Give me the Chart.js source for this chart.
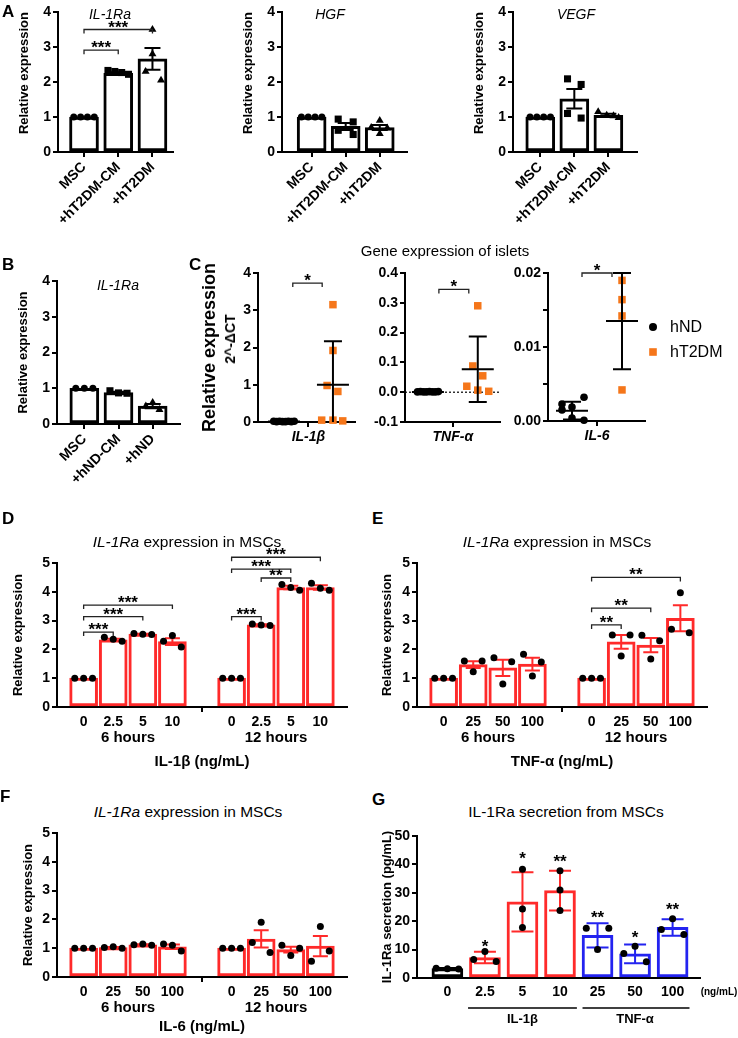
<!DOCTYPE html>
<html>
<head>
<meta charset="utf-8">
<script src="https://cdn.jsdelivr.net/npm/chart.js"></script>
<style>
body { margin: 0; background: #fff; }
#page { position: relative; width: 738px; height: 1038px; overflow: hidden; font-family: 'Liberation Sans', Arial, sans-serif; color: #000; }
canvas { position: absolute; }
.t { position: absolute; transform: translate(-50%, -50%); white-space: nowrap; line-height: 1; z-index: 5; }
.lt { position: absolute; font-weight: bold; font-size: 17px; line-height: 1; z-index: 5; }
</style>
</head>
<body>
<div id="page">
  <div class="lt" style="left:2px;top:3px">A</div>
  <div class="lt" style="left:2px;top:256px">B</div>
  <div class="lt" style="left:189px;top:256px">C</div>
  <div class="lt" style="left:2px;top:510px">D</div>
  <div class="lt" style="left:372px;top:510px">E</div>
  <div class="lt" style="left:0px;top:788px">F</div>
  <div class="lt" style="left:372px;top:791px">G</div>

  <div class="t" style="left:110px;top:14px;font-size:14px;font-style:italic">IL-1Ra</div>
  <div class="t" style="left:330px;top:14px;font-size:14px;font-style:italic">HGF</div>
  <div class="t" style="left:576px;top:14px;font-size:14px;font-style:italic">VEGF</div>
  <div class="t" style="left:118px;top:285px;font-size:14px;font-style:italic">IL-1Ra</div>
  <div class="t" style="left:445px;top:250px;font-size:15px">Gene expression of islets</div>
  <div class="t" style="left:230px;top:339px;font-size:14px;font-weight:bold;transform:translate(-50%,-50%) rotate(-90deg)">2^-ΔCT</div>
  <div class="t" style="left:187px;top:542px;font-size:15.5px"><i>IL-1Ra</i> expression in MSCs</div>
  <div class="t" style="left:557px;top:542px;font-size:15.5px"><i>IL-1Ra</i> expression in MSCs</div>
  <div class="t" style="left:188px;top:812px;font-size:15.5px"><i>IL-1Ra</i> expression in MSCs</div>
  <div class="t" style="left:566px;top:812px;font-size:15.5px">IL-1Ra secretion from MSCs</div>
  <div class="t" style="left:719px;top:992px;font-size:10px;font-weight:bold">(ng/mL)</div>
</div>
<script>
// ---- data: panel A ----
const aGroups = ['MSC', '+hT2DM-CM', '+hT2DM'];
const il1raMean = [1, 2.25, 2.66];
const il1raSem = [0, 0.03, 0.31];
const il1raPts = [[1, 1, 1, 1], [2.33, 2.3, 2.27, 2.22], [3.5, 2.8, 2.3, 2.05]];
const il1raJit = [[-0.3, -0.1, 0.1, 0.3], [-0.3, -0.1, 0.1, 0.3], [0, 0, -0.2, 0.25]];
const hgfMean = [1, 0.73, 0.7];
const hgfSem = [0, 0.1, 0.07];
const hgfPts = [[1, 1, 1, 1], [0.94, 0.86, 0.62, 0.5], [0.9, 0.7, 0.68, 0.52]];
const hgfJit = [[-0.3, -0.1, 0.1, 0.3], [-0.22, 0.22, -0.22, 0.22], [0, -0.25, 0.22, 0]];
const vegfMean = [1, 1.52, 1.05];
const vegfSem = [0, 0.28, 0.04];
const vegfPts = [[1, 1, 1, 1], [2.09, 1.93, 1.1, 0.97], [1.15, 1.05, 1.03, 0.98]];
const vegfJit = [[-0.3, -0.1, 0.1, 0.3], [-0.2, 0.2, -0.2, 0.2], [-0.3, -0.05, 0.15, 0.3]];

// ---- panel B ----
const bGroups = ['MSC', '+hND-CM', '+hND'];
const bMean = [1, 0.88, 0.5];
const bSem = [0, 0.02, 0.06];
const bPts = [[1, 1, 1], [0.93, 0.87, 0.86], [0.6, 0.5, 0.4]];
const bJit = [[-0.25, 0, 0.25], [-0.25, 0, 0.25], [0, -0.2, 0.2]];

// ---- panel C ----
const cGenes = ['IL-1β', 'TNF-α', 'IL-6'];
const cSeries = ['hND', 'hT2DM'];
const ndJit = [-0.21, -0.15, -0.09, -0.03, 0.03, 0.09, 0.15, 0.21];
const il1bND = [0.02, 0.01, 0.02, 0.01, 0.01, 0.02, 0.01, 0.02];
const il1bT2 = [3.15, 1.92, 0.98, 0.82, 0.05, 0.05, 0.03];
const il1bT2Jit = [0, 0, -0.12, 0.1, -0.23, 0, 0.2];
const il1bMean = [0.015, 1.0];
const il1bSd = [0.005, 1.17];
const tnfND = [0.001, 0.002, 0.001, 0.001, 0.002, 0.001, 0.001, 0.002];
const tnfT2 = [0.29, 0.088, 0.055, 0.02, 0.007, 0.003];
const tnfT2Jit = [0, -0.1, 0.1, -0.22, 0, 0.22];
const tnfMean = [0.001, 0.077];
const tnfSd = [0.0005, 0.11];
const il6ND = [0.0032, 0.0023, 0.0019, 0.0015, 0.0004, 0.0001];
const il6NDJit = [0.24, -0.2, 0, -0.2, 0, 0.24];
const il6T2 = [0.019, 0.0164, 0.0142, 0.0042];
const il6T2Jit = [0, 0, 0, 0];
const il6Mean = [0.0014, 0.0135];
const il6Sd = [0.0012, 0.0065];

// ---- panels D, E, F (slot 4 is the gap between 6 h and 12 h) ----
const timeLabels = ['6 hours', '12 hours'];
const ptJit = [-0.3, 0, 0.3];
const dDoses = ['0', '2.5', '5', '10', '', '0', '2.5', '5', '10'];
const dMean = [1, 2.33, 2.53, 2.27, null, 1, 2.85, 4.15, 4.15];
const dSem = [0, 0.04, 0.01, 0.12, null, 0, 0.02, 0.06, 0.08];
const dPts = [[1, 1, 1], [2.42, 2.35, 2.28], [2.55, 2.53, 2.52], [2.28, 2.48, 2.08], [], [1, 1, 1], [2.88, 2.85, 2.83], [4.25, 4.15, 4.05], [4.3, 4.12, 4.05]];
const eDoses = ['0', '25', '50', '100', '', '0', '25', '50', '100'];
const eMean = [1, 1.47, 1.36, 1.49, null, 1, 2.26, 2.15, 3.08];
const eSem = [0, 0.12, 0.28, 0.22, null, 0, 0.24, 0.25, 0.45];
const ePts = [[1, 1, 1], [1.6, 1.22, 1.6], [1.71, 0.8, 1.57], [1.83, 1.08, 1.56], [], [1, 1, 1], [2.5, 1.77, 2.5], [2.49, 1.67, 2.3], [2.7, 3.97, 2.58]];
const fMean = [1, 1.02, 1.12, 1.05, null, 1, 1.32, 0.95, 1.07];
const fSem = [0, 0.02, 0.02, 0.08, null, 0, 0.3, 0.1, 0.35];
const fPts = [[1, 1, 1], [1.02, 1.05, 1.0], [1.12, 1.15, 1.1], [1.15, 1.1, 0.9], [], [1, 1, 1], [1.2, 1.9, 0.85], [1.1, 0.75, 1.0], [0.55, 1.75, 0.9]];

// ---- panel G ----
const gDoses = ['0', '2.5', '5', '10', '25', '50', '100'];
const gGroups = ['IL-1β', 'TNF-α'];
const gMean = [3.3, 7.2, 26.8, 30.8, 15.0, 8.5, 17.8];
const gSd = [0.2, 2.0, 10.4, 7.0, 4.3, 3.3, 2.9];
const gPts = [[3.4, 3.3, 3.2], [6.5, 9.3, 5.8], [24.3, 38.3, 17.8], [31, 37.8, 23.8], [17.5, 10, 17.5], [8.6, 11.2, 5.7], [17.1, 20.9, 15.3]];
const gJit = [[-0.3, 0, 0.3], [-0.3, 0, 0.3], [0, 0, 0], [0, 0, 0], [-0.3, 0, 0.3], [-0.3, 0, 0.3], [-0.3, 0, 0.3]];
const gStars = ['', '*', '*', '**', '**', '*', '**'];
const gStarY = [null, 11, 42, 41, 21, 14, 24];

const FONT = "'Liberation Sans', Arial, sans-serif";
const RED = '#ff2a2a', BLUE = '#2323f0', ORANGE = '#f5761a';
Chart.defaults.font.family = FONT;
Chart.defaults.color = '#000';
Chart.defaults.animation = false;
Chart.defaults.events = [];
Chart.defaults.plugins.legend.display = false;
Chart.defaults.plugins.tooltip.enabled = false;

const page = document.getElementById('page');
function addCanvas(L, T, W, H) {
  const c = document.createElement('canvas');
  c.width = W; c.height = H;
  c.style.left = L + 'px'; c.style.top = T + 'px';
  c.style.width = W + 'px'; c.style.height = H + 'px';
  page.appendChild(c);
  return c;
}

function yAxis(min, max, step, title, width, fmt, titleSize, titleAlign) {
  return {
    type: 'linear', position: 'left', min: min, max: max,
    afterFit: s => { s.width = width; },
    ticks: { stepSize: step, padding: 2, font: { size: 14, weight: 'bold' }, callback: fmt || (v => v) },
    grid: { drawOnChartArea: false, tickLength: 5, color: '#000', lineWidth: 2 },
    border: { color: '#000', width: 2 },
    title: { display: !!title, text: title, align: titleAlign || 'center', font: { size: titleSize || 13, weight: 'bold' }, padding: { top: 4, bottom: 4 } }
  };
}

function xAxis(min, max, ticks, labels, height, tickColor, font, rot) {
  return {
    type: 'linear', position: 'bottom', weight: 0, min: min, max: max, offset: false,
    afterFit: s => { s.height = height; },
    afterBuildTicks: s => { s.ticks = ticks.map(v => ({ value: v })); },
    ticks: { autoSkip: false, minRotation: rot || 0, maxRotation: rot || 0, padding: 2,
             font: font || { size: 14, weight: 'bold' }, callback: (v, i) => labels[i] },
    grid: { offset: false, drawOnChartArea: false, tickLength: 5, color: tickColor || '#000', lineWidth: 2 },
    border: { color: '#000', width: 2 }
  };
}

function errPlugin(capHalf, colorFn) {
  return {
    id: 'errBars',
    afterDatasetDraw(chart, args) {
      if (args.index !== 0) return;
      const ys = chart.scales.y, ctx = chart.ctx;
      const ds = chart.data.datasets[0];
      ctx.save();
      ctx.lineWidth = 2;
      args.meta.data.forEach((el, k) => {
        const d = ds.data[k];
        if (!d.e) return;
        const top = ys.getPixelForValue(d.y + d.e), bot = ys.getPixelForValue(d.y - d.e);
        ctx.strokeStyle = colorFn(k);
        ctx.beginPath();
        ctx.moveTo(el.x, top); ctx.lineTo(el.x, bot);
        ctx.moveTo(el.x - capHalf, top); ctx.lineTo(el.x + capHalf, top);
        ctx.moveTo(el.x - capHalf, bot); ctx.lineTo(el.x + capHalf, bot);
        ctx.stroke();
      });
      ctx.restore();
    }
  };
}

function bracketPlugin(items, fontSize) {
  return {
    id: 'brackets',
    afterDatasetsDraw(chart) {
      const { ctx, scales: { x, y } } = chart;
      ctx.save();
      ctx.strokeStyle = '#222'; ctx.fillStyle = '#000'; ctx.lineWidth = 1.3;
      ctx.font = 'bold ' + (fontSize || 17) + 'px ' + FONT;
      ctx.textAlign = 'center'; ctx.textBaseline = 'alphabetic';
      items.forEach(b => {
        const x1 = x.getPixelForValue(b[0]), x2 = x.getPixelForValue(b[1]), yy = y.getPixelForValue(b[2]);
        ctx.beginPath();
        ctx.moveTo(x1, yy + 4); ctx.lineTo(x1, yy); ctx.lineTo(x2, yy); ctx.lineTo(x2, yy + 4);
        ctx.stroke();
        const m = ctx.measureText(b[3]);
        ctx.fillText(b[3], (x1 + x2) / 2, yy - 2 - m.actualBoundingBoxDescent);
      });
      ctx.restore();
    }
  };
}

function groupDots(i, vals, offs, style, r, color) {
  return {
    type: 'scatter', order: 1, clip: false,
    data: vals.map((v, j) => ({ x: i + offs[j], y: v })),
    pointStyle: style, pointRadius: r, pointHoverRadius: r,
    pointBackgroundColor: color, pointBorderWidth: 0
  };
}

// ---- A and B: bars with SEM ----
const styles3 = ['circle', 'rect', 'triangle'];
const radii3 = [3.5, 5, 4.6];
function exprChart(box, plot, xr, groups, mean, sem, pts, jit, brackets, yTitle, titleAlign) {
  const [L, T, W, H] = box;
  const c = addCanvas(L, T, W, H);
  const datasets = [{
    type: 'bar', order: 3,
    data: mean.map((m, i) => ({ x: i, y: m, e: sem[i] })),
    backgroundColor: '#fff', borderColor: '#000', borderWidth: 3, borderSkipped: false, barThickness: 29
  }];
  pts.forEach((p, i) => datasets.push(groupDots(i, p, jit[i], styles3[i], radii3[i], '#000')));
  new Chart(c, {
    type: 'bar',
    data: { datasets },
    options: {
      responsive: false,
      layout: { padding: { top: plot[1] - T, right: L + W - plot[2], left: 0, bottom: 0 } },
      scales: {
        x: xAxis(xr[0], xr[1], [0, 1, 2], groups, T + H - plot[3], '#000', { size: 14, weight: 'bold' }, 45),
        y: yAxis(0, 4, 1, yTitle, plot[0] - L, null, 13, titleAlign)
      }
    },
    plugins: [errPlugin(8, () => '#000'), bracketPlugin(brackets)]
  });
}

exprChart([13, 0, 168, 232], [58, 12, 173, 152], [-0.76, 2.6], aGroups, il1raMean, il1raSem, il1raPts, il1raJit,
  [[0, 1, 2.91, '***'], [0, 2, 3.5, '***']], 'Relative expression', 'end');
exprChart([237, 0, 178, 232], [282, 12, 407, 152], [-0.87, 2.8], aGroups, hgfMean, hgfSem, hgfPts, hgfJit, [], 'Relative expression', 'end');
exprChart([468, 0, 177, 232], [513, 12, 637, 152], [-0.8, 2.84], aGroups, vegfMean, vegfSem, vegfPts, vegfJit, [], 'Relative expression', 'end');
exprChart([12, 269, 176, 228], [57, 281, 180, 424], [-0.8, 2.8], bGroups, bMean, bSem, bPts, bJit, [], 'Relative expression');

// ---- C: dot plots with mean ± SD ----
function meanSdPlugin(mean, sd) {
  return {
    id: 'meanSd',
    afterDatasetsDraw(chart) {
      const { ctx, scales: { x, y }, chartArea } = chart;
      ctx.save();
      ctx.strokeStyle = '#000'; ctx.lineWidth = 2;
      mean.forEach((m, i) => {
        const cx = x.getPixelForValue(i);
        const ym = y.getPixelForValue(m);
        const yt = Math.max(chartArea.top, y.getPixelForValue(m + sd[i]));
        const yb = Math.min(chartArea.bottom, y.getPixelForValue(m - sd[i]));
        ctx.beginPath();
        ctx.moveTo(cx - 16, ym); ctx.lineTo(cx + 16, ym);
        ctx.moveTo(cx, yt); ctx.lineTo(cx, yb);
        ctx.moveTo(cx - 9, yt); ctx.lineTo(cx + 9, yt);
        if (yb < chartArea.bottom) { ctx.moveTo(cx - 9, yb); ctx.lineTo(cx + 9, yb); }
        ctx.stroke();
      });
      ctx.restore();
    }
  };
}
const zeroLine = {
  id: 'zeroLine',
  beforeDatasetsDraw(chart) {
    const { ctx, scales: { y }, chartArea } = chart;
    const y0 = y.getPixelForValue(0);
    ctx.save();
    ctx.strokeStyle = '#000'; ctx.lineWidth = 1.2; ctx.setLineDash([2, 2]);
    ctx.beginPath(); ctx.moveTo(chartArea.left, y0); ctx.lineTo(chartArea.right, y0); ctx.stroke();
    ctx.restore();
  }
};
const sideLegend = {
  id: 'sideLegend',
  afterDraw(chart) {
    const ctx = chart.ctx;
    chart.data.datasets.forEach((ds, i) => {
      const cx = 147, cy = 72 + i * 25;
      ctx.save();
      ctx.fillStyle = ds.pointBackgroundColor;
      if (ds.pointStyle === 'rect') ctx.fillRect(cx - 3.8, cy - 3.8, 7.6, 7.6);
      else { ctx.beginPath(); ctx.arc(cx, cy, 4, 0, Math.PI * 2); ctx.fill(); }
      ctx.fillStyle = '#000'; ctx.font = '16px ' + FONT; ctx.textBaseline = 'middle';
      ctx.fillText(ds.label, cx + 17, cy + 1);
      ctx.restore();
    });
  }
};

function geneChart(box, plot, xr, gene, nd, ndOffs, t2, t2Offs, mean, sd, yCfg, bracket, extra) {
  const [L, T, W, H] = box;
  const c = addCanvas(L, T, W, H);
  const dsND = groupDots(0, nd, ndOffs, 'circle', 3.8, '#000');
  dsND.label = cSeries[0];
  const dsT2 = groupDots(1, t2, t2Offs, 'rect', 5.3, ORANGE);
  dsT2.label = cSeries[1];
  new Chart(c, {
    type: 'scatter',
    data: { datasets: [dsND, dsT2] },
    options: {
      responsive: false,
      layout: { padding: { top: plot[1] - T, right: L + W - plot[2], left: 0, bottom: 0 } },
      scales: {
        x: xAxis(xr[0], xr[1], [0.5], [gene], T + H - plot[3], '#000', { size: 14, weight: 'bold', style: 'italic' }),
        y: yCfg(plot[0] - L)
      }
    },
    plugins: [meanSdPlugin(mean, sd), bracketPlugin([bracket], 17)].concat(extra || [])
  });
}

geneChart([195, 255, 166, 195], [258, 273, 355, 422], [-0.53, 1.45], cGenes[0], il1bND, ndJit, il1bT2, il1bT2Jit,
  il1bMean, il1bSd, w => yAxis(0, 4, 1, 'Relative expression', w, null, 18), [0.18, 0.78, 3.73, '*']);
geneChart([365, 255, 140, 195], [405, 273, 500, 422], [-0.46, 1.44], cGenes[1], tnfND, ndJit, tnfT2, tnfT2Jit,
  tnfMean, tnfSd, w => yAxis(-0.1, 0.4, 0.1, '', w, v => v.toFixed(1)), [0.22, 0.82, 0.345, '*'], [zeroLine]);
geneChart([506, 255, 232, 195], [548, 273, 645, 421], [-0.48, 1.46], cGenes[2], il6ND, il6NDJit, il6T2, il6T2Jit,
  il6Mean, il6Sd, w => yAxis(0, 0.02, 0.005, '', w, (v, i) => (i % 2 ? '' : v.toFixed(2))), [0.2, 0.8, 0.02, '*'], [sideLegend]);

// ---- D, E, F: time course bars ----
function timeChart(box, plot, doses, mean, sem, pts, brackets, xTitle, yTitle) {
  const [L, T, W, H] = box;
  const c = addCanvas(L, T, W, H);
  const x1H = 22;
  const barData = [];
  mean.forEach((m, i) => { if (m !== null) barData.push({ x: i, y: m, e: sem[i] }); });
  const dotData = [];
  pts.forEach((p, i) => p.forEach((v, j) => dotData.push({ x: i + ptJit[j], y: v })));
  const x = xAxis(-0.9, 8.9, [0, 1, 2, 3, 4, 5, 6, 7, 8], doses, x1H,
    ctx => (ctx.index === 4 ? '#000' : 'rgba(0,0,0,0)'));
  const x2 = {
    type: 'linear', position: 'bottom', weight: 1, min: -0.9, max: 8.9, offset: false,
    afterFit: s => { s.height = T + H - plot[3] - x1H; },
    afterBuildTicks: s => { s.ticks = [1.5, 6.5].map(v => ({ value: v })); },
    ticks: { autoSkip: false, maxRotation: 0, padding: 0, font: { size: 15, weight: 'bold' }, callback: (v, i) => timeLabels[i] },
    grid: { display: false, drawTicks: false, offset: false },
    border: { display: false },
    title: { display: true, text: xTitle, font: { size: 15, weight: 'bold' }, padding: { top: 0, bottom: 2 } }
  };
  new Chart(c, {
    type: 'bar',
    data: {
      datasets: [
        { type: 'bar', order: 3, data: barData, backgroundColor: '#fff', borderColor: RED, borderWidth: 3, borderSkipped: false, barThickness: 28 },
        { type: 'scatter', order: 1, clip: false, data: dotData, pointStyle: 'circle', pointRadius: 3.5, pointHoverRadius: 3.5, pointBackgroundColor: '#000', pointBorderWidth: 0 }
      ]
    },
    options: {
      responsive: false,
      layout: { padding: { top: plot[1] - T, right: L + W - plot[2], left: 0, bottom: 0 } },
      scales: { x: x, x2: x2, y: yAxis(0, 5, 1, yTitle, plot[0] - L) }
    },
    plugins: [errPlugin(7.5, () => RED), bracketPlugin(brackets)]
  });
}

timeChart([7, 538, 348, 235], [57, 563, 347, 707], dDoses, dMean, dSem, dPts,
  [[0, 1, 2.6, '***'], [0, 2, 3.14, '***'], [0, 3, 3.54, '***'], [5, 6, 3.14, '***'], [6, 7, 4.48, '**'], [5, 7, 4.79, '***'], [5, 8, 5.2, '***']],
  'IL-1β (ng/mL)', 'Relative expression');
timeChart([376, 538, 339, 235], [417, 563, 707, 707], eDoses, eMean, eSem, ePts,
  [[5, 6, 2.85, '**'], [5, 7, 3.43, '**'], [5, 8, 4.5, '**']],
  'TNF-α (ng/mL)', 'Relative expression');
timeChart([17, 821, 338, 217], [57, 833, 347, 977], eDoses, fMean, fSem, fPts, [],
  'IL-6 (ng/mL)', 'Relative expression');

// ---- G: secretion ----
(function () {
  const L = 376, T = 824, W = 332, H = 214;
  const plot = [417, 836, 700, 978];
  const c = addCanvas(L, T, W, H);
  const gColors = ['#000', RED, RED, RED, BLUE, BLUE, BLUE];
  const dotData = [];
  gPts.forEach((p, i) => p.forEach((v, j) => dotData.push({ x: i + gJit[i][j], y: v })));
  const x = xAxis(-0.81, 6.73, [0, 1, 2, 3, 4, 5, 6], gDoses, 22);
  x.grid = { display: false, drawTicks: false, offset: false };
  x.ticks.padding = 6;
  const x2 = {
    type: 'linear', position: 'bottom', weight: 1, min: -0.81, max: 6.73, offset: false,
    afterFit: s => { s.height = T + H - plot[3] - 22; },
    afterBuildTicks: s => { s.ticks = [2, 5].map(v => ({ value: v })); },
    ticks: { autoSkip: false, maxRotation: 0, padding: 12, font: { size: 13, weight: 'bold' }, callback: (v, i) => gGroups[i] },
    grid: { display: false, drawTicks: false, offset: false },
    border: { display: false }
  };
  const extras = {
    id: 'gExtras',
    afterDatasetsDraw(chart) {
      const { ctx, scales } = chart;
      ctx.save();
      ctx.fillStyle = '#000';
      ctx.font = 'bold 17px ' + FONT;
      ctx.textAlign = 'center';
      gStars.forEach((s, i) => {
        if (!s) return;
        const m = ctx.measureText(s);
        ctx.fillText(s, scales.x.getPixelForValue(i), scales.y.getPixelForValue(gStarY[i]) - m.actualBoundingBoxDescent);
      });
      ctx.strokeStyle = '#000'; ctx.lineWidth = 1.5;
      const ly = scales.x2.top + 8;
      [[0.55, 3.45], [3.6, 6.45]].forEach(r => {
        ctx.beginPath();
        ctx.moveTo(scales.x.getPixelForValue(r[0]), ly);
        ctx.lineTo(scales.x.getPixelForValue(r[1]), ly);
        ctx.stroke();
      });
      ctx.restore();
    }
  };
  new Chart(c, {
    type: 'bar',
    data: {
      datasets: [
        { type: 'bar', order: 3, data: gMean.map((m, i) => ({ x: i, y: m, e: gSd[i] })), backgroundColor: '#fff',
          borderColor: gColors, borderWidth: 3, borderSkipped: false, barThickness: 31 },
        { type: 'scatter', order: 1, clip: false, data: dotData, pointStyle: 'circle', pointRadius: 3.5, pointHoverRadius: 3.5, pointBackgroundColor: '#000', pointBorderWidth: 0 }
      ]
    },
    options: {
      responsive: false,
      layout: { padding: { top: plot[1] - T, right: L + W - plot[2], left: 0, bottom: 0 } },
      scales: { x: x, x2: x2, y: yAxis(0, 50, 10, 'IL-1Ra secretion (pg/mL)', plot[0] - L) }
    },
    plugins: [errPlugin(11, k => gColors[k]), extras]
  });
})();
</script>
</body>
</html>
